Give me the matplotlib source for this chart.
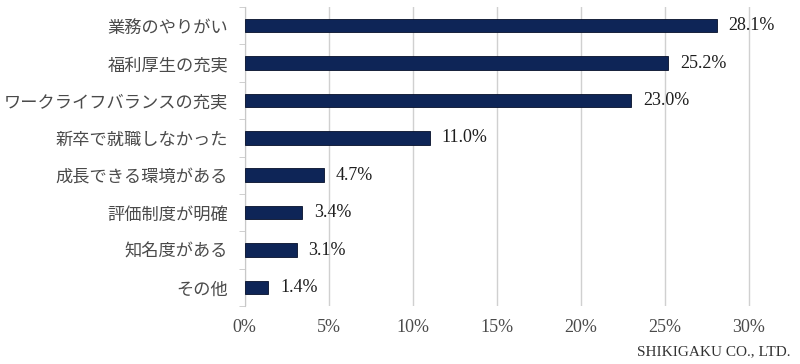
import matplotlib.pyplot as plt
import numpy as np
from matplotlib.ticker import FixedLocator

plt.rcParams['font.family'] = ['Liberation Serif', 'Noto Sans CJK JP', 'DejaVu Sans']

categories = ['業務のやりがい', '福利厚生の充実', 'ワークライフバランスの充実', '新卒で就職しなかった',
              '成長できる環境がある', '評価制度が明確', '知名度がある', 'その他']
values = [28.1, 25.2, 23.0, 11.0, 4.7, 3.4, 3.1, 1.4]
xticks = [0, 5, 10, 15, 20, 25, 30]

navy = '#0e2557'
text_col = '#4a4a4a'

fig = plt.figure(figsize=(8, 3.64), dpi=100)
ax = fig.add_axes((0.306, 0.159, 0.634, 0.822))

y = np.arange(len(categories))
ax.barh(y, values, height=0.36, color=navy, edgecolor='#050f2a', linewidth=0.6, zorder=3)

# value labels just right of each bar
for yi, v in zip(y, values):
    ax.text(v + 0.7, yi, f'{v:.1f}%', va='center', ha='left', fontsize=13,
            color='#1e1e1e', zorder=4)

ax.set_xlim(0, 30.2)
ax.set_ylim(len(categories) - 0.5, -0.5)
ax.set_xticks(xticks)
ax.set_xticklabels([f'{t}%' for t in xticks], fontsize=13, color=text_col)
ax.set_yticks(y)
ax.set_yticklabels(categories, fontsize=12.4, color=text_col, family=['Noto Sans CJK JP'])
ax.yaxis.set_minor_locator(FixedLocator(np.arange(-0.5, len(categories), 1)))
ax.tick_params(axis='y', which='major', length=0, pad=12)
ax.tick_params(axis='y', which='minor', length=4, color='#c8c8c8')
ax.tick_params(axis='x', length=0, pad=9)

ax.grid(axis='x', color='#d0d0d0', linewidth=1, zorder=0)
for s in ['top', 'right', 'bottom']:
    ax.spines[s].set_visible(False)
ax.spines['left'].set_color('#c8c8c8')

fig.text(0.988, 0.015, 'SHIKIGAKU CO., LTD.', ha='right', va='bottom', fontsize=11, color='#333333')

fig.savefig('out.png', dpi=100)
